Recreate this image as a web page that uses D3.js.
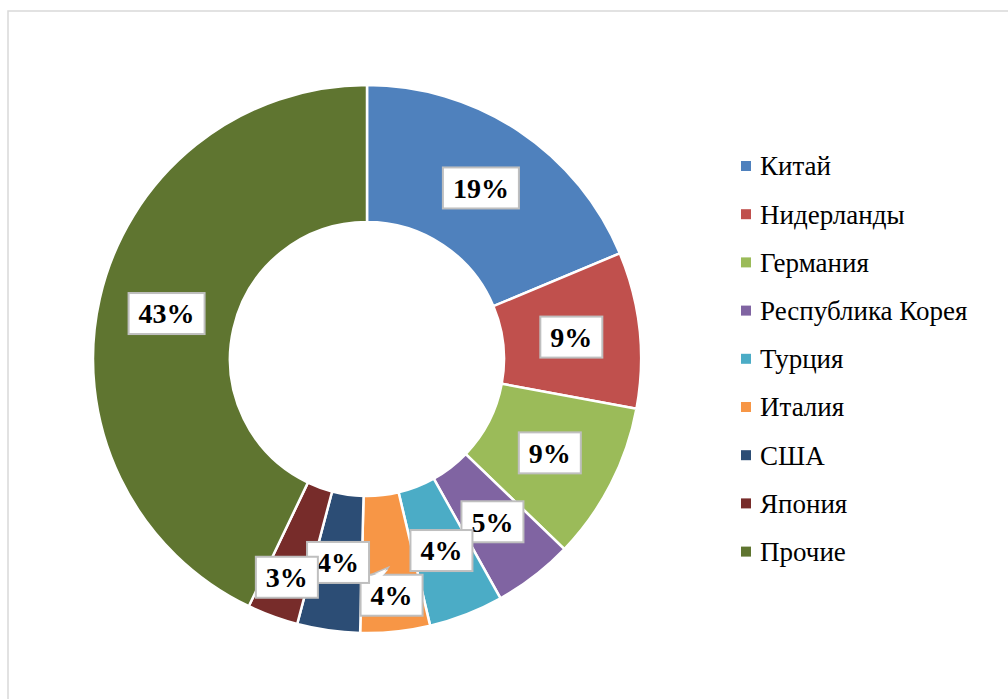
<!DOCTYPE html>
<html>
<head>
<meta charset="utf-8">
<script src="https://cdn.jsdelivr.net/npm/d3@7"></script>
<style>
  html, body { margin: 0; padding: 0; background: #fff; }
  svg { display: block; }
  .serif { font-family: "Liberation Serif", "Times New Roman", Times, "Tinos", "DejaVu Serif", serif; }
</style>
</head>
<body>
<svg id="chart" width="1008" height="699"></svg>
<script>
// ---- data ----
const categories = ["Китай", "Нидерланды", "Германия", "Республика Корея", "Турция", "Италия", "США", "Япония", "Прочие"];
const shares = [18.7, 9.2, 9.3, 4.7, 4.4, 4.1, 3.7, 3.0, 42.9];
const colors = ["#4F81BD", "#C0504D", "#9BBB59", "#8064A2", "#4BACC6", "#F79646", "#2C4D75", "#772C2A", "#5F7530"];

// label radial push (px) for labels moved out of the centroid to avoid overlap
const labelPush = [0, 0, 0, 0, 0, 32, 0, 27, 0];

const svg = d3.select("#chart");
const W = 1008, H = 699;

// outer frame
svg.append("rect")
  .attr("x", 8).attr("y", 11)
  .attr("width", W + 20).attr("height", H + 20)
  .attr("fill", "#fff")
  .attr("stroke", "#d9d9d9").attr("stroke-width", 1.5);

const cx = 367, cy = 359;
const outerR = 274, innerR = 137;

const total = d3.sum(shares);
const pie = d3.pie().sort(null).value(d => d)(shares);
const arc = d3.arc().innerRadius(innerR).outerRadius(outerR);

const g = svg.append("g").attr("transform", `translate(${cx},${cy})`);

g.selectAll("path.slice")
  .data(pie)
  .join("path")
  .attr("class", "slice")
  .attr("d", arc)
  .attr("fill", (d, i) => colors[i])
  .attr("stroke", "#fff")
  .attr("stroke-width", 2.5)
  .attr("stroke-linejoin", "miter");

// labels
const fmt = d3.format(".0%");
g.selectAll("g.lbl")
  .data(pie)
  .join("g")
  .attr("class", "lbl")
  .each(function (d, i) {
    const mid = (d.startAngle + d.endAngle) / 2;
    const r = (innerR + outerR) / 2 + labelPush[i];
    const x = Math.sin(mid) * r;
    const y = -Math.cos(mid) * r;
    const grp = d3.select(this).attr("transform", `translate(${x},${y})`);
    const txt = fmt(d.value / total);
    const t = grp.append("text")
      .attr("class", "serif")
      .attr("text-anchor", "middle")
      .attr("dy", "0.35em")
      .attr("font-weight", "bold")
      .attr("font-size", 28)
      .attr("fill", "#000")
      .text(txt);
    const bb = t.node().getBBox();
    const padX = 10, bw = bb.width + 2 * padX, bh = 41;
    const c = arc.centroid(d);
    if (i === 5) {
      grp.insert("path", "text")
        .attr("d", `M${-bw / 2 + 8},${-bh / 2 + 1} L${c[0] - x},${c[1] - y + 4} L${-bw / 2 + 22},${-bh / 2 + 1} Z`)
        .attr("fill", "#fff")
        .attr("stroke", "#bfbfbf")
        .attr("stroke-width", 1.5);
    }
    grp.insert("rect", "text")
      .attr("x", -bw / 2).attr("y", -bh / 2)
      .attr("width", bw).attr("height", bh)
      .attr("fill", "#fff")
      .attr("stroke", "#bfbfbf")
      .attr("stroke-width", 2);
    if (i === 5) {
      grp.insert("path", "text")
        .attr("d", `M${-bw / 2 + 9},${-bh / 2 + 2} L${c[0] - x},${c[1] - y + 6} L${-bw / 2 + 21},${-bh / 2 + 2} Z`)
        .attr("fill", "#fff");
    }
  });

// legend
const legend = svg.append("g").attr("transform", "translate(741,166)");
const rowH = 48.2;
const items = legend.selectAll("g.item")
  .data(categories)
  .join("g")
  .attr("class", "item")
  .attr("transform", (d, i) => `translate(0,${i * rowH})`);
items.append("rect")
  .attr("x", 0).attr("y", -5)
  .attr("width", 10).attr("height", 10)
  .attr("fill", (d, i) => colors[i]);
items.append("text")
  .attr("class", "serif")
  .attr("x", 19).attr("dy", "0.35em")
  .attr("font-size", 27)
  .attr("fill", "#000")
  .text(d => d);
</script>
</body>
</html>
